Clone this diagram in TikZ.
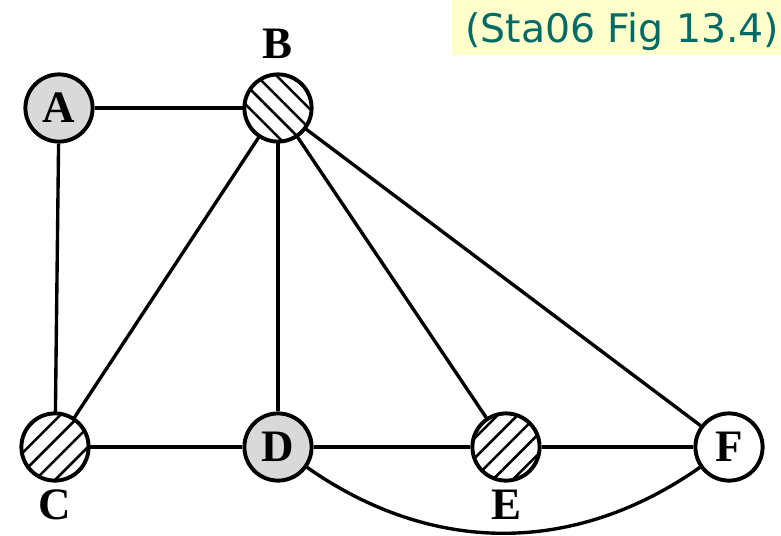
\documentclass[tikz,border=0pt]{standalone}
\usepackage{fontspec}
\setmainfont{Liberation Serif}
\newfontfamily\titlefont{DejaVu Sans}
\usetikzlibrary{patterns.meta}
\definecolor{titlebg}{HTML}{FFFFCC}
\definecolor{titletext}{HTML}{006A66}
\definecolor{vgray}{HTML}{D9D9D9}

\begin{document}
\begin{tikzpicture}[x=0.025cm,y=-0.025cm,
 vertex/.style={draw,circle,line width=2.8pt,minimum size=1.68cm,inner sep=0pt,font=\fontsize{32}{32}\selectfont\bfseries},
 grayv/.style={vertex,fill=vgray},
 hatchdown/.style={vertex,pattern={Lines[angle=-45,distance=10pt,line width=1.8pt]}},
 hatchup/.style={vertex,pattern={Lines[angle=45,distance=10pt,line width=1.8pt]}},
 lbl/.style={font=\fontsize{32}{32}\selectfont\bfseries},
 edge/.style={line width=2.4pt}]
\useasboundingbox (0,0) rectangle (781,535);
\node[fill=titlebg,minimum width=8.225cm,minimum height=1.375cm,anchor=north west,inner sep=0pt] (titlebox) at (452,0) {};
\node[anchor=base west,text=titletext,font=\titlefont\fontsize{28}{28}\selectfont,inner sep=0pt] (title) at (465,42) {(Sta06 Fig 13.4)};
% the six vertices
\node[grayv] (A) at (59,108) {A};
\node[hatchdown] (B) at (278,108) {};
\node[hatchup] (C) at (55,447) {};
\node[grayv] (D) at (278,447) {D};
\node[hatchup] (E) at (506,447) {};
\node[vertex] (F) at (729,447) {F};
\node[lbl] (Blbl) at (278,44) {B};
\node[lbl] (Clbl) at (55,505) {C};
\node[lbl] (Elbl) at (506,505) {E};
% edges
\draw[edge] (A)--(B);
\draw[edge] (A)--(C);
\draw[edge] (B)--(C);
\draw[edge] (B)--(D);
\draw[edge] (B)--(E);
\draw[edge] (B)--(F);
\draw[edge] (C)--(D);
\draw[edge] (D)--(E);
\draw[edge] (E)--(F);
\draw[edge] (D) to[out=-35,in=-145] (F);
\end{tikzpicture}
\end{document}
